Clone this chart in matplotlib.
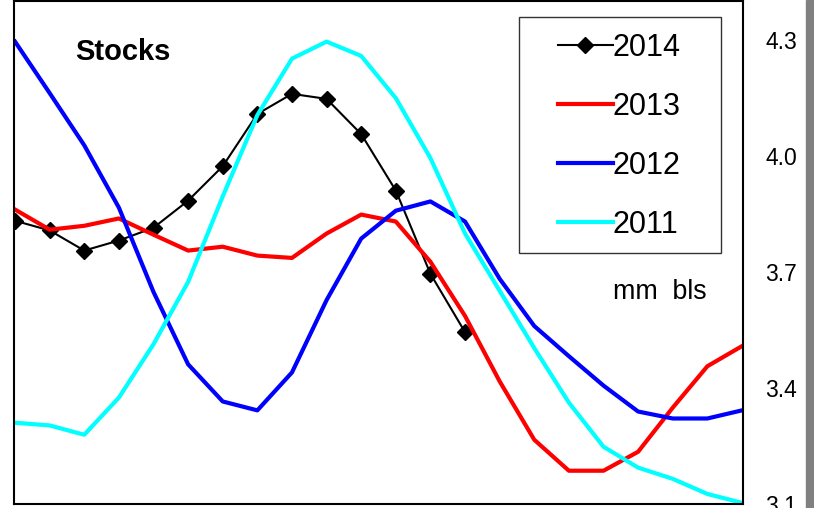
import matplotlib.pyplot as plt
from matplotlib.patches import Rectangle

# weekly stock values (mm bls)
weeks = list(range(22))

stocks_2014 = [3.832, 3.807, 3.755, 3.781, 3.814, 3.884, 3.973, 4.108, 4.160, 4.147,
               4.056, 3.910, 3.695, 3.544]
stocks_2013 = [3.861, 3.809, 3.819, 3.838, 3.796, 3.755, 3.765, 3.742, 3.736, 3.799,
               3.848, 3.830, 3.726, 3.586, 3.417, 3.266, 3.186, 3.186, 3.235, 3.349,
               3.456, 3.508]
stocks_2012 = [4.295, 4.162, 4.027, 3.866, 3.648, 3.461, 3.365, 3.342, 3.440, 3.627,
               3.786, 3.858, 3.882, 3.830, 3.682, 3.560, 3.482, 3.406, 3.339, 3.321,
               3.321, 3.342]
stocks_2011 = [3.310, 3.303, 3.279, 3.375, 3.513, 3.674, 3.895, 4.105, 4.251, 4.295,
               4.258, 4.149, 3.994, 3.799, 3.651, 3.503, 3.362, 3.248, 3.194, 3.165,
               3.126, 3.103]

y_ticks = [3.1, 3.4, 3.7, 4.0, 4.3]
y_tick_labels = ["3.1", "3.4", "3.7", "4.0", "4.3"]

plt.rcParams["font.family"] = ["Liberation Sans", "DejaVu Sans"]

fig = plt.figure(figsize=(8.14, 5.08), dpi=100)
ax = fig.add_axes([14 / 814, 1 - 504 / 508, 729 / 814, 503 / 508])

ax.plot(weeks[:len(stocks_2014)], stocks_2014, color="black", lw=1.5,
        marker="D", markersize=8.5, label="2014")
ax.plot(weeks, stocks_2013, color="#ff0000", lw=3, label="2013")
ax.plot(weeks, stocks_2012, color="#0000ff", lw=3, label="2012")
ax.plot(weeks, stocks_2011, color="#00ffff", lw=3, label="2011")

ax.set_xlim(-0.03, 21.03)
ax.set_ylim(3.1, 4.4)
ax.set_xticks([])
ax.yaxis.tick_right()
ax.set_yticks(y_ticks)
ax.set_yticklabels(y_tick_labels)
ax.tick_params(axis="y", length=0, pad=16, labelsize=16.5)
for s in ax.spines.values():
    s.set_linewidth(1.5)

ax.text(0.084, 0.899, "Stocks", transform=ax.transAxes, fontsize=21,
        fontweight="bold", va="center", ha="left")
ax.text(0.822, 0.4215, "mm  bls", transform=ax.transAxes, fontsize=19.3,
        va="center", ha="left")

# legend without its own frame, the box is drawn separately
leg = ax.legend(loc="center left", bbox_to_anchor=(0.746, 0.7306), borderaxespad=0,
                borderpad=0, fontsize=22, handlelength=1.8, handletextpad=0.0,
                labelspacing=0.95, frameon=False)
ax.add_patch(Rectangle((0.6927, 0.499), 0.2771, 0.469, transform=ax.transAxes,
                       fill=False, edgecolor="#333333", lw=1.0, zorder=5))

# gray strip along the right edge
fig.patches.append(Rectangle((806 / 814, 0), 8 / 814, 1, transform=fig.transFigure,
                             color="#808080", zorder=0))

fig.savefig("out.png", dpi=100)
